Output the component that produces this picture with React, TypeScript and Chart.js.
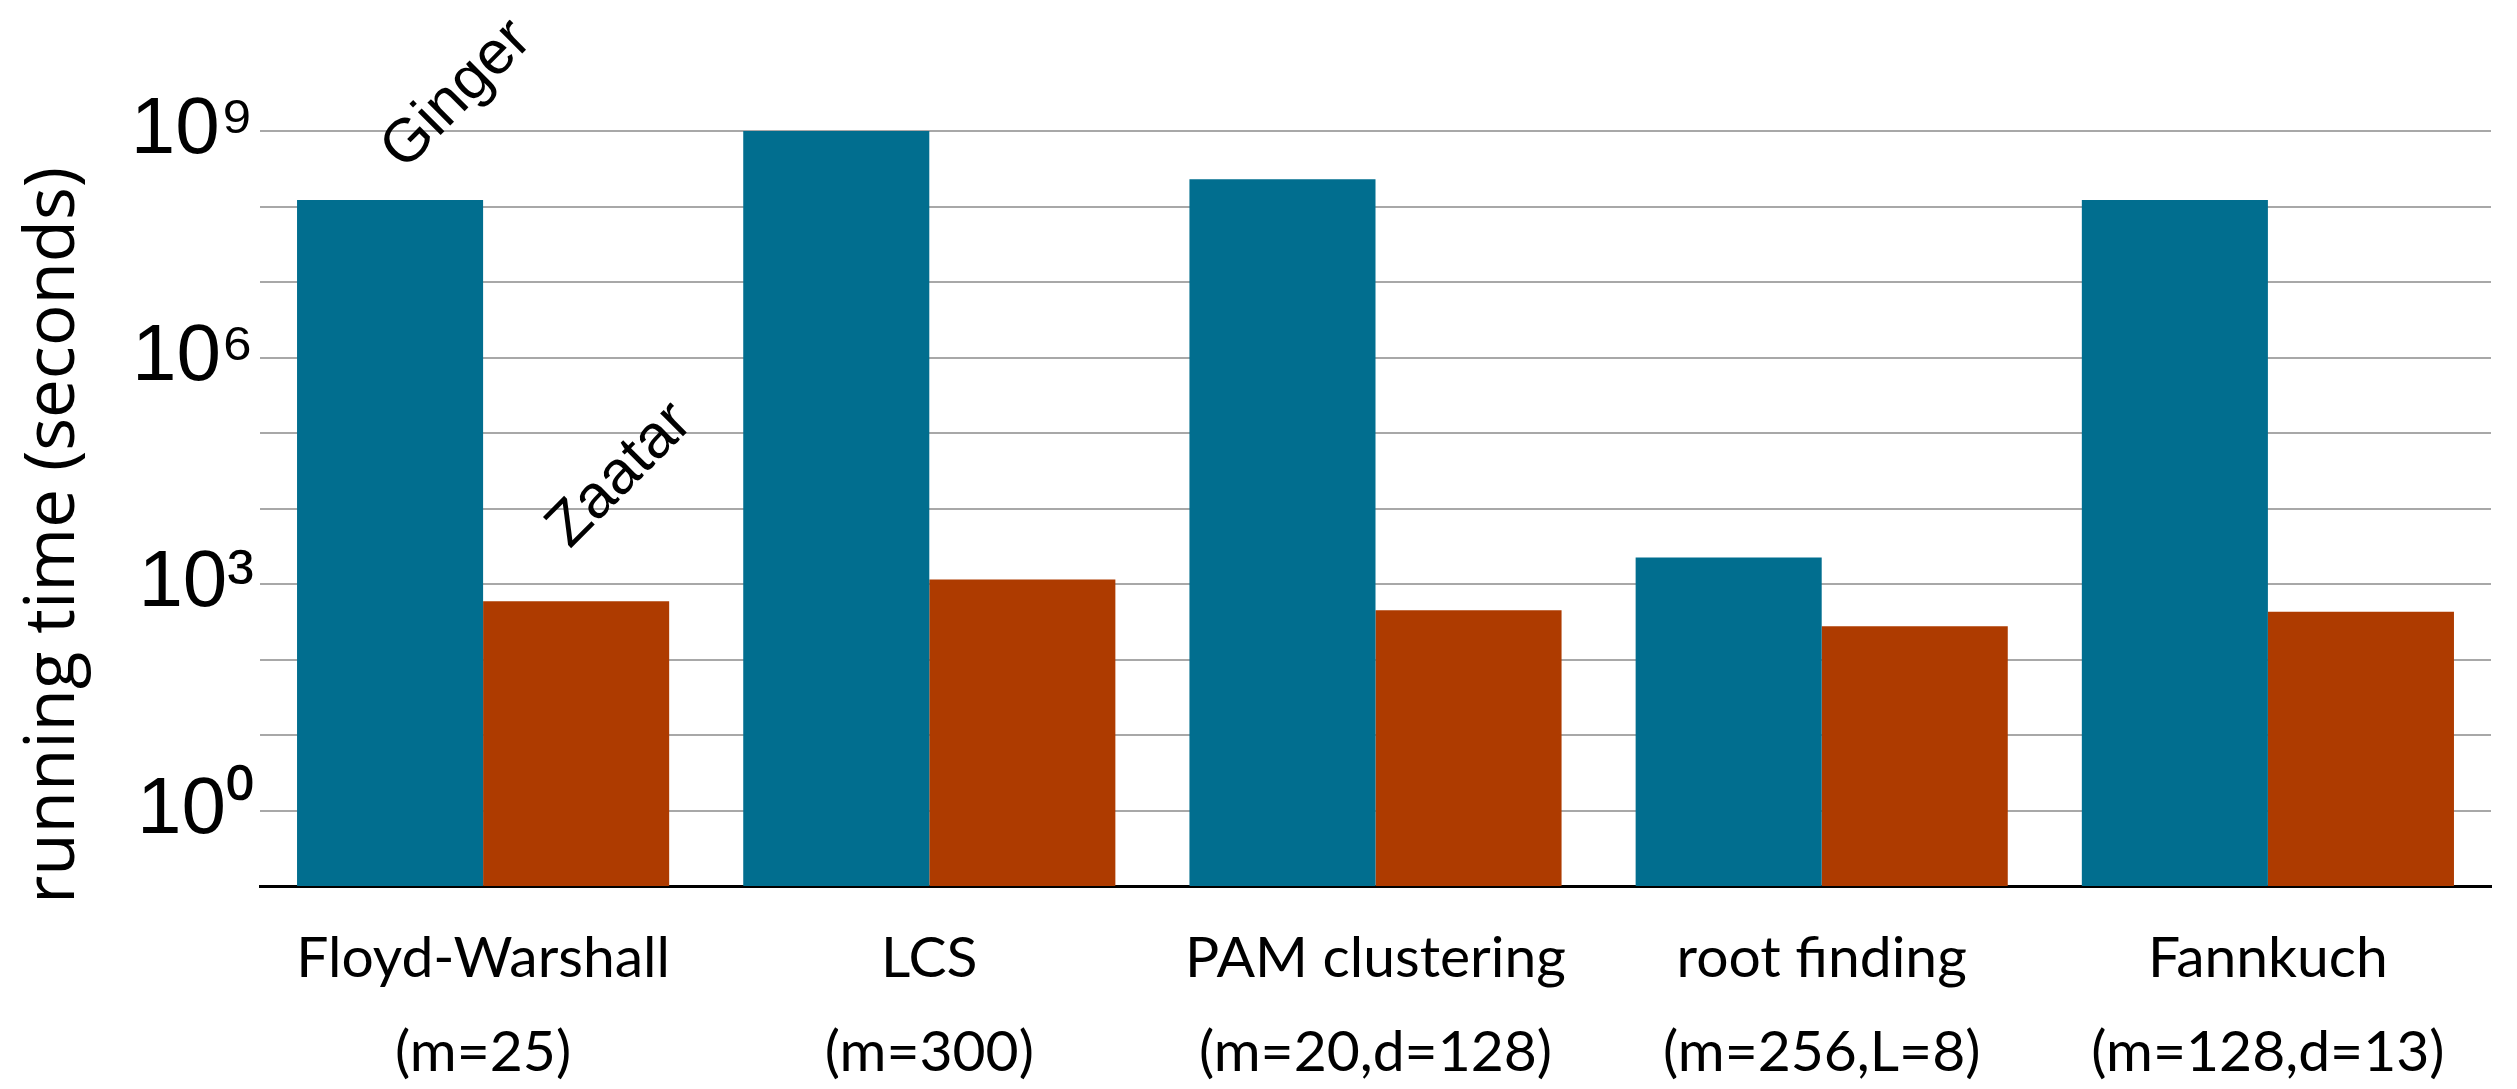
import React, { useEffect, useRef } from "react";
import { Chart, registerables } from "chart.js";

Chart.register(...registerables);

// ---- data ----
const categories: string[][] = [
  ["Floyd-Warshall", "(m=25)"],
  ["LCS", "(m=300)"],
  ["PAM clustering", "(m=20,d=128)"],
  ["root finding", "(m=256,L=8)"],
  ["Fannkuch", "(m=128,d=13)"],
];
const seriesNames = ["Ginger", "Zaatar"];
const gingerSeconds = [1.22e8, 1e9, 2.3e8, 2250, 1.22e8];
const zaatarSeconds = [590, 1150, 450, 275, 430];
const yGridValues = [1, 1e1, 1e2, 1e3, 1e4, 1e5, 1e6, 1e7, 1e8, 1e9];
const yTickLabels: Record<number, string> = { 0: "10\u2070", 3: "10\u00B3", 6: "10\u2076", 9: "10\u2079" };
const yTitle = "running time (seconds)";

// ---- style ----
const seriesColors = ["#016e8f", "#ae3b00"];
const noteOffsets = [
  [67, -105],
  [44, -126],
];

const notesPlugin = {
  id: "seriesNotes",
  afterDatasetsDraw(chart: any) {
    const ctx = chart.ctx;
    seriesNames.forEach((name, i) => {
      const bar = chart.getDatasetMeta(i).data[0];
      if (!bar) return;
      ctx.save();
      ctx.translate(bar.x + noteOffsets[i][0], bar.y + noteOffsets[i][1]);
      ctx.rotate(-Math.PI / 4);
      ctx.font = '61px "Liberation Sans", Arial, sans-serif';
      ctx.textAlign = "center";
      ctx.textBaseline = "middle";
      ctx.fillStyle = "#000";
      ctx.fillText(name, 0, 0);
      ctx.restore();
    });
  },
};

export default function App() {
  const ref = useRef<HTMLCanvasElement | null>(null);
  useEffect(() => {
    if (!ref.current) return;
    const chart = new Chart(ref.current, {
      type: "bar",
      data: {
        labels: categories,
        datasets: [
          {
            label: seriesNames[0],
            data: gingerSeconds,
            backgroundColor: seriesColors[0],
            borderWidth: 0,
            categoryPercentage: 0.834,
            barPercentage: 1.0,
          },
          {
            label: seriesNames[1],
            data: zaatarSeconds,
            backgroundColor: seriesColors[1],
            borderWidth: 0,
            categoryPercentage: 0.834,
            barPercentage: 1.0,
          },
        ],
      },
      options: {
        animation: false,
        responsive: false,
        devicePixelRatio: 1,
        layout: { padding: { top: 131, right: 26, left: 0, bottom: 0 } },
        plugins: {
          legend: { display: false },
          tooltip: { enabled: false },
        },
        scales: {
          x: {
            grid: { display: false, drawTicks: false },
            border: { display: true, color: "#000", width: 3 },
            ticks: {
              color: "#000",
              padding: 25,
              maxRotation: 0,
              autoSkip: false,
              font: { family: "Lato, sans-serif", size: 57, lineHeight: 1.66 },
            },
            afterFit: (s: any) => {
              s.height = 203;
            },
          },
          y: {
            type: "logarithmic",
            min: 0.1,
            max: 1e9,
            grid: { color: "#a8a8a8", lineWidth: 2, drawTicks: false },
            border: { display: false },
            afterBuildTicks: (s: any) => {
              s.ticks = yGridValues.map((v) => ({ value: v }));
            },
            ticks: {
              color: "#000",
              padding: 6,
              autoSkip: false,
              font: { family: '"Liberation Sans", Arial, sans-serif', size: 80 },
              callback: (v: any) => {
                const e = Math.round(Math.log10(Number(v)));
                return yTickLabels[e] ?? "";
              },
            },
            title: {
              display: true,
              text: yTitle + "   ",
              color: "#000",
              padding: { top: 13, bottom: 0 },
              font: { family: '"Open Sans", sans-serif', size: 69 },
            },
            afterFit: (s: any) => {
              s.width = 260;
            },
          },
        },
      },
      plugins: [notesPlugin],
    });
    return () => chart.destroy();
  }, []);
  return (
    <canvas
      ref={ref}
      width={2517}
      height={1089}
      style={{ position: "absolute", left: 0, top: 0, width: 2517, height: 1089, display: "block" }}
    />
  );
}
